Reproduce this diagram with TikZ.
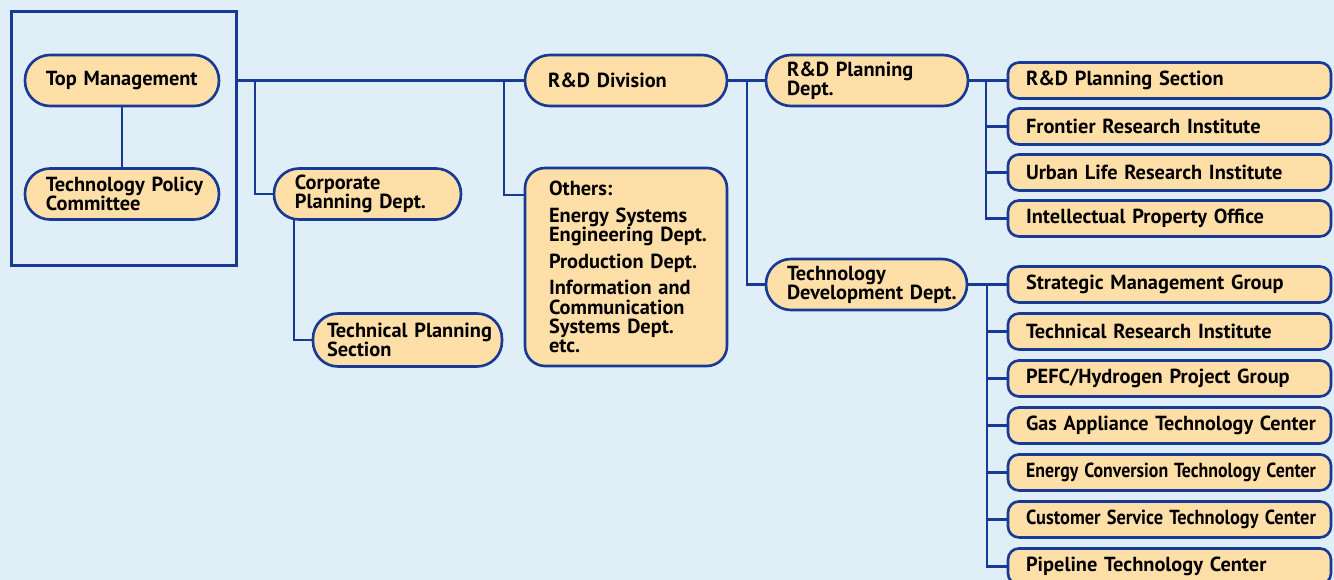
\documentclass[tikz,border=0pt]{standalone}
\usepackage{fontspec}
\usepackage{graphicx}
\setmainfont{PT Sans}
\usetikzlibrary{positioning}
\definecolor{orgblue}{RGB}{22,58,150}
\definecolor{orgfill}{RGB}{255,223,168}
\definecolor{orgback}{RGB}{224,238,247}
\newcommand{\squeezed}[1]{\resizebox{5.8cm}{\height}{#1}}
\tikzstyle{dept}=[rectangle,draw=orgblue,line width=1.5pt,fill=orgfill,rounded corners=0.5cm,
minimum height=1.02cm,inner xsep=0pt,inner ysep=0pt,outer sep=0pt,text width=3.88cm,align=left,anchor=west,
font=\bfseries\fontsize{11.6}{10.9}\selectfont,
execute at begin node={\lineskiplimit=-20pt\leftskip=0.42cm}]
\tikzstyle{group}=[dept,rounded corners=0.22cm,minimum height=0.72cm,text width=6.46cm,
execute at begin node={\leftskip=0.36cm}]
\tikzstyle{listbox}=[dept,rounded corners=0.4cm,minimum height=3.96cm,text width=4.04cm,
anchor=north west,execute at begin node={\leftskip=0.48cm}]
\tikzstyle{outer}=[rectangle,draw=orgblue,line width=1.5pt,inner sep=0pt]
\tikzstyle{link}=[draw=orgblue,line width=1.3pt]

\begin{document}
\begin{tikzpicture}[x=0.02cm,y=-0.02cm]
            \fill[orgback] (0,0) rectangle (1334,580);
            \useasboundingbox (0,0) rectangle (1334,580);

            % MANAGEMENT PART

            \node[outer,minimum width=4.5cm,minimum height=5.08cm,anchor=north west] (mgmt) at (10,10) {};
            \node[dept] (tm) at (25,80.5) {Top Management};
            \node[dept] (tpc) at (25,194) {Technology Policy\\Committee};

            \draw[link] (tm) -- (tpc);

            % PLANNING PART

            \node[dept,text width=3.74cm] (cpd) at (274,194) {Corporate\\Planning Dept.};
            \node[dept,text width=3.78cm,minimum height=1.06cm,
                  execute at begin node={\leftskip=0.28cm}] (tps) at (313,340) {Technical Planning\\Section};
            \node[dept,text width=4.04cm,execute at begin node={\leftskip=0.46cm}] (rdd) at (525,80.5) {R\&D Division};
            \node[listbox] (oth) at (525,168) {Others:\\[0.15cm]
                Energy Systems\\Engineering Dept.\\[0.15cm]
                Production Dept.\\[0.15cm]
                Information and\\Communication\\Systems Dept.\\etc.};

            \coordinate (j1) at (255,80.5);
            \coordinate (j2) at (504,80.5);

            \draw[link] (mgmt.east |- tm.east) -- (rdd.west);
            \draw[link] (j1) |- (cpd.west);
            \draw[link] ([xshift=0.4cm]cpd.south west) |- (tps.west);
            \draw[link] (j2) |- ([yshift=-0.54cm]oth.north west);

            % R&D DIVISION PART

            \node[dept,text width=4.04cm] (rdp) at (766,80.5) {R\&D Planning\\Dept.};
            \node[dept,text width=4.02cm] (tdd) at (766,284.5) {Technology\\Development Dept.};

            \coordinate (j3) at (747,80.5);

            \draw[link] (rdd) -- (rdp);
            \draw[link] (j3) |- (tdd.west);

            % R&D PLANNING SECTIONS

            \node[group] (s1) at (1008,80.5) {R\&D Planning Section};
            \node[group,below=0.2cm of s1] (s2) {Frontier Research Institute};
            \node[group,below=0.2cm of s2] (s3) {Urban Life Research Institute};
            \node[group,below=0.2cm of s3] (s4) {Intellectual Property Office};

            \coordinate (j4) at (986,80.5);

            \draw[link] (rdp) -- (s1);
            \draw[link] (j4) |- (s2.west);
            \draw[link] (j4) |- (s3.west);
            \draw[link] (j4) |- (s4.west);

            % TECHNOLOGY DEVELOPMENT GROUPS

            \node[group] (g1) at (1008,284.5) {Strategic Management Group};
            \node[group,below=0.22cm of g1] (g2) {Technical Research Institute};
            \node[group,below=0.22cm of g2] (g3) {PEFC/Hydrogen Project Group};
            \node[group,below=0.22cm of g3] (g4) {\squeezed{Gas Appliance Technology Center}};
            \node[group,below=0.22cm of g4] (g5) {\squeezed{Energy Conversion Technology Center}};
            \node[group,below=0.22cm of g5] (g6) {\squeezed{Customer Service Technology Center}};
            \node[group,below=0.22cm of g6] (g7) {Pipeline Technology Center};

            \coordinate (j5) at (987,284.5);

            \draw[link] (tdd) -- (g1);
            \draw[link] (j5) |- (g2.west);
            \draw[link] (j5) |- (g3.west);
            \draw[link] (j5) |- (g4.west);
            \draw[link] (j5) |- (g5.west);
            \draw[link] (j5) |- (g6.west);
            \draw[link] (j5) |- (g7.west);

\end{tikzpicture}
\end{document}
